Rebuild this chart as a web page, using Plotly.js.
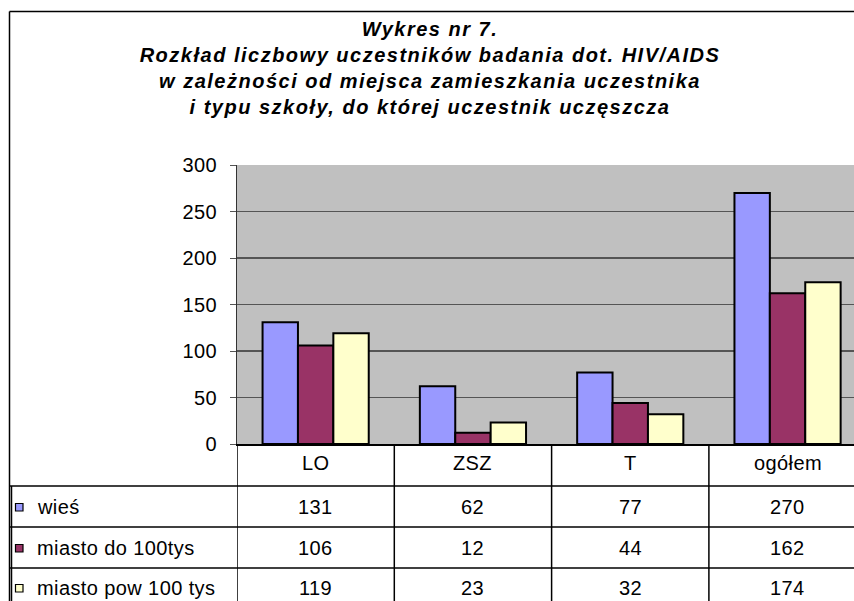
<!DOCTYPE html>
<html>
<head>
<meta charset="utf-8">
<script src="https://cdn.plot.ly/plotly-3.0.1.min.js"></script>
<style>
  html, body { margin: 0; padding: 0; background: #fff; }
  #chart { width: 854px; height: 601px; }
  svg text { letter-spacing: 0.4px; }
  .gtitle { letter-spacing: 1.5px; }
</style>
</head>
<body>
<div id="chart"></div>
<script>
// ---- data ----
const categories = ['LO', 'ZSZ', 'T', 'ogółem'];
const seriesNames = ['wieś', 'miasto do 100tys', 'miasto pow 100 tys'];
const wies = [131, 62, 77, 270];
const miastoDo100 = [106, 12, 44, 162];
const miastoPow100 = [119, 23, 32, 174];
const seriesColors = ['#9999FF', '#993366', '#FFFFCC'];
const yTicks = [0, 50, 100, 150, 200, 250, 300];
const titleLines = [
  'Wykres nr 7.',
  'Rozkład liczbowy uczestników badania dot. HIV/AIDS',
  'w zależności od miejsca zamieszkania uczestnika',
  'i typu szkoły, do której uczestnik uczęszcza'
];

const seriesValues = [wies, miastoDo100, miastoPow100];
const FONT = 'Liberation Sans, Arial, sans-serif';

const traces = seriesValues.map((vals, i) => ({
  type: 'bar',
  name: seriesNames[i],
  x: categories,
  y: vals,
  marker: { color: seriesColors[i], line: { color: '#000', width: 2 } },
  hoverinfo: 'skip'
}));

// layout geometry (paper coords relative to plot area 237..854 x, 165..444 y)
const L = 237, T = 165, B = 444, W = 854 - 237, H = B - T;
const px = x => (x - L) / W;
const py = y => (B - y) / H;

const rowLinesY = [486, 527, 568];
const rowTextY = [507, 548, 588];
const headerTextY = 463;

const shapes = [];
const annotations = [];

// outer frame
shapes.push({ type: 'line', xref: 'paper', yref: 'paper', x0: px(9.5), x1: 1.01, y0: py(11.5), y1: py(11.5), line: { color: '#000', width: 1.5 } });
shapes.push({ type: 'line', xref: 'paper', yref: 'paper', x0: px(9.5), x1: px(9.5), y0: py(11.5), y1: py(605), line: { color: '#000', width: 1.5 } });
shapes.push({ type: 'line', xref: 'paper', yref: 'paper', x0: px(11.5), x1: px(11.5), y0: py(486), y1: py(605), line: { color: '#000', width: 1.5 } });

// table horizontal lines
rowLinesY.forEach(y => {
  shapes.push({ type: 'line', xref: 'paper', yref: 'paper', x0: px(10), x1: 1.01, y0: py(y), y1: py(y), line: { color: '#000', width: 1.5 } });
});
// table vertical dividers at category boundaries
categories.forEach((c, i) => {
  shapes.push({ type: 'line', xref: 'x', yref: 'paper', x0: i - 0.5, x1: i - 0.5, y0: 0, y1: py(605), line: { color: '#000', width: 1.5 } });
});

// header labels
categories.forEach((c, i) => {
  annotations.push({ xref: 'x', yref: 'paper', x: i, y: py(headerTextY), text: c, showarrow: false, xanchor: 'center', yanchor: 'middle', font: { family: FONT, size: 20, color: '#000' } });
});

// rows
seriesValues.forEach((vals, r) => {
  // legend key square
  shapes.push({ type: 'rect', xref: 'paper', yref: 'paper', x0: px(15.5), x1: px(23), y0: py(rowTextY[r] - 3.5), y1: py(rowTextY[r] + 4), fillcolor: seriesColors[r], line: { color: '#000', width: 1.2 } });
  annotations.push({ xref: 'paper', yref: 'paper', x: px(35), y: py(rowTextY[r]), text: seriesNames[r], showarrow: false, xanchor: 'left', yanchor: 'middle', font: { family: FONT, size: 20, color: '#000' } });
  vals.forEach((v, i) => {
    annotations.push({ xref: 'x', yref: 'paper', x: i, y: py(rowTextY[r]), text: String(v), showarrow: false, xanchor: 'center', yanchor: 'middle', font: { family: FONT, size: 20, color: '#000' } });
  });
});

const layout = {
  width: 854,
  height: 601,
  margin: { l: L, r: 0, t: T, b: 601 - B, pad: 0 },
  paper_bgcolor: '#fff',
  plot_bgcolor: '#C0C0C0',
  showlegend: false,
  barmode: 'group',
  bargap: 0.325,
  bargroupgap: 0,
  hovermode: false,
  title: {
    text: titleLines.join('<br>'),
    font: { family: FONT, size: 20, color: '#000', weight: 'bold', style: 'italic' },
    xref: 'container', yref: 'container',
    x: 430 / 854, xanchor: 'center',
    y: 1 - 36 / 601, yanchor: 'top'
  },
  xaxis: {
    type: 'category',
    range: [-0.5, -0.5 + W / 157.3],
    showticklabels: false,
    ticks: '',
    showgrid: false,
    zeroline: false,
    showline: true,
    linecolor: '#000',
    linewidth: 2,
    fixedrange: true
  },
  yaxis: {
    range: [0, 300],
    tickvals: yTicks,
    ticktext: yTicks.map(String),
    ticks: 'outside',
    ticklen: 6,
    tickwidth: 1,
    tickcolor: '#555',
    ticklabelstandoff: 9,
    tickfont: { family: FONT, size: 20, color: '#000' },
    showgrid: true,
    gridcolor: '#555555',
    gridwidth: 1.5,
    zeroline: false,
    showline: true,
    linecolor: '#333',
    linewidth: 1,
    fixedrange: true
  },
  shapes: shapes,
  annotations: annotations
};

Plotly.newPlot('chart', traces, layout, { staticPlot: true, displayModeBar: false });
</script>
</body>
</html>
